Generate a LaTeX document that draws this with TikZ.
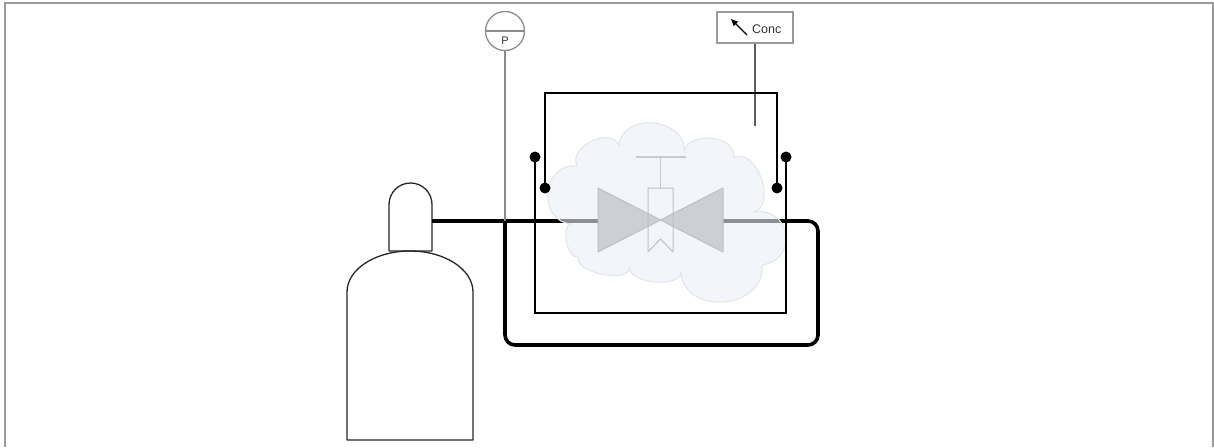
\documentclass[tikz,border=0pt]{standalone}
\usepackage{fontspec}
\setmainfont{Liberation Sans}
\usetikzlibrary{calc,arrows.meta}

\definecolor{framegray}{HTML}{9A9A9A}
\definecolor{signalgray}{HTML}{8C8C8C}
\definecolor{conclinegray}{HTML}{5E5E5E}
\definecolor{cloudfill}{rgb}{0.917,0.933,0.967}
\definecolor{cloudedge}{HTML}{E1E4E9}
\definecolor{valvefill}{HTML}{CCD0D5}
\definecolor{valveedge}{HTML}{BCC0C6}
\definecolor{stemgray}{HTML}{C6CACF}

\begin{document}
\begin{tikzpicture}[x=1pt,y=-1pt,
  frame/.style={draw=framegray,line width=2pt},
  pipe/.style={line width=3.6pt},
  wire/.style={line width=2.6pt},
  tank/.style={draw=black!85,line width=1.3pt,line join=round},
  valvebody/.style={draw=valveedge,fill=valvefill,line width=1pt,line join=round},
  stem/.style={draw=stemgray,line width=1.5pt},
  signal/.style={draw=signalgray,line width=1.4pt},
  dotnode/.style={circle,fill=black,inner sep=0pt,minimum size=11pt},
  cloudbump/.style={to path={.. controls ($(\tikztostart)!#1!90:(\tikztotarget)$) and ($(\tikztotarget)!#1!-90:(\tikztostart)$) .. (\tikztotarget)}},
  txt/.style={inner sep=0pt,font=\fontsize{11}{11}\selectfont},
]
\useasboundingbox (0,0) rectangle (1214,447);

% open frame
\draw[frame] (5,447) -- (5,3) -- (1212.5,3) -- (1212.5,447);

% gas cylinder: body and valve cap
\draw[tank] (347,440) -- (347,292)
  arc[start angle=180,end angle=360,x radius=63,y radius=41] -- (473,440) -- cycle;
\draw[tank] (389,251) -- (389,204.5)
  arc[start angle=180,end angle=360,radius=21.5] -- (432,251) -- cycle;

% pipe points
\coordinate (tankout) at (432,221);
\coordinate (tee) at (505,221);
\coordinate (vin) at (598,221);
\coordinate (vout) at (723,221);
\coordinate (vc) at (660.5,220);
\coordinate (loopbl) at (505,345);
\coordinate (loopbr) at (818,345);
\coordinate (looptr) at (818,221);

% process pipes
\draw[pipe] (tankout) -- (vin);
\draw[pipe,rounded corners=10pt] (tee) -- (loopbl) -- (loopbr) -- (looptr) -- (vout);

% enclosure cloud
\coordinate (cA) at (571,224);
\coordinate (cB) at (577,166);
\coordinate (cC) at (619,145);
\coordinate (cD) at (684,153);
\coordinate (cE) at (734,157);
\coordinate (cF) at (754,212);
\coordinate (cG) at (762,265);
\coordinate (cH) at (681,273);
\coordinate (cI) at (630,268);
\coordinate (cJ) at (578,257);
\path[fill=cloudfill,fill opacity=0.6,draw=cloudedge,line width=1pt]
  (cA) to[cloudbump=0.6] (cB) to[cloudbump=0.45] (cC) to[cloudbump=0.53] (cD)
  to[cloudbump=0.45] (cE) to[cloudbump=0.42] (cF) to[cloudbump=0.7] (cG)
  to[cloudbump=0.54] (cH) to[cloudbump=0.3] (cI) to[cloudbump=0.3] (cJ)
  to[cloudbump=0.32] (cA) -- cycle;

% valve
\draw[valvebody] (598,188) -- (598,252) -- (vc) -- cycle;
\draw[valvebody] (723,188) -- (723,252) -- (vc) -- cycle;
\draw[draw=valveedge,line width=1pt,line join=round]
  (648,188) -- (673,188) -- (673,252) -- (660.5,239) -- (648,252) -- cycle;
\coordinate (stemtop) at (660.5,157);
\coordinate (stembot) at (660.5,188);
\draw[stem] (stemtop) -- (stembot);
\draw[stem] (636,157) -- (686,157);

% pressure gauge
\node[circle,draw=signalgray,line width=1.3pt,minimum size=39pt,inner sep=0pt] (gauge) at (505,31) {};
\draw[draw=signalgray,line width=1.3pt] (gauge.west) -- (gauge.east);
\node[txt,text=black!80] (plabel) at (505,41) {P};
\draw[signal] (gauge.south) -- (tee);

% concentration indicator
\node[draw=framegray,line width=1.2pt,minimum width=76pt,minimum height=31pt,inner sep=0pt] (conc) at (755,27.5) {};
\node[txt,text=black!80,anchor=west,font=\fontsize{12.5}{12.5}\selectfont] (conctext) at (752,29) {Conc};
\coordinate (arrtail) at (747,35);
\coordinate (arrtip) at (731,19);
\draw[line width=1.3pt,-{Triangle[length=7pt,width=6pt]}] (arrtail) -- (arrtip);
\coordinate (concend) at (755,126);
\draw[draw=conclinegray,line width=1.5pt] (conc.south) -- (concend);

% sensing lines
\node[dotnode] (d1) at (545,188) {};
\node[dotnode] (d2) at (777,188) {};
\node[dotnode] (d3) at (535,157) {};
\node[dotnode] (d4) at (786,157) {};
\draw[wire] (d1.center) -- (545,93) -- (777,93) -- (d2.center);
\draw[wire] (d3.center) -- (535,313) -- (786,313) -- (d4.center);
\end{tikzpicture}
\end{document}
